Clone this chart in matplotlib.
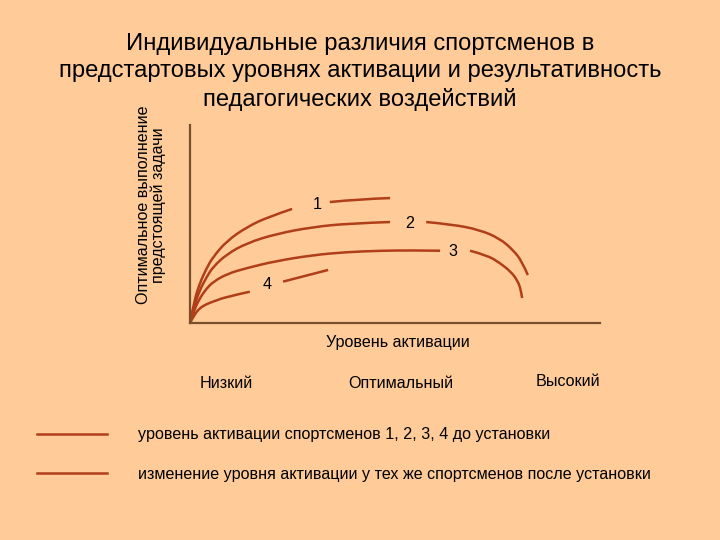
import matplotlib.pyplot as plt
from matplotlib.path import Path
from matplotlib.patches import PathPatch

plt.rcParams['font.family'] = ['Liberation Sans', 'DejaVu Sans']

BG = "#FFCC99"
CURVE = "#B03E18"
AXIS = "#7A4E2A"
FS = 11.6

title = ("Индивидуальные различия спортсменов в\n"
         "предстартовых уровнях активации и результативность\n"
         "педагогических воздействий")
ylabel = "Оптимальное выполнение\nпредстоящей задачи"
xlabel = "Уровень активации"
levels = ["Низкий", "Оптимальный", "Высокий"]
legend_texts = ["уровень активации спортсменов 1, 2, 3, 4 до установки",
                "изменение уровня активации у тех же спортсменов после установки"]

# curves: (x, y) in 0..100 units of the axes, segments split around the labels
curve1_a = ([0, 1.0, 2.4, 4.0, 5.6, 9.0, 13.9, 19.0, 24.9],
            [0, 11.0, 20.2, 27.5, 33.3, 41.5, 48.5, 53.5, 57.6])
curve1_b = ([34.1, 41.5, 48.8], [61.1, 62.6, 63.1])
curve2_a = ([0, 1.0, 2.4, 4.0, 5.6, 9.0, 13.9, 21.0, 30.0, 39.0, 48.8],
            [0, 8.5, 16.7, 23.0, 28.3, 34.8, 40.4, 45.0, 48.5, 50.3, 51.0])
curve2_b = ([57.6, 64.0, 70.7, 75.5, 78.8, 81.0, 82.4],
            [51.0, 49.8, 47.0, 42.7, 36.9, 31.0, 24.2])
curve3_a = ([0, 1.0, 2.4, 4.0, 5.6, 9.0, 13.9, 21.0, 30.0, 38.0, 46.3, 54.0, 61.0],
            [0, 6.5, 12.6, 17.3, 20.7, 24.8, 27.8, 31.3, 34.3, 35.8, 36.5, 36.7, 36.5])
curve3_b = ([68.3, 72.5, 75.6, 78.2, 79.8, 80.7, 81.0],
            [36.5, 34.2, 30.3, 26.0, 21.7, 17.0, 12.6])
curve4_a = ([0, 1.0, 2.4, 4.0, 5.6, 9.0, 14.6],
            [0, 4.0, 7.6, 9.5, 10.8, 13.3, 15.8])
curve4_b = ([22.7, 33.7], [20.9, 26.8])
curves = [curve1_a, curve1_b, curve2_a, curve2_b,
          curve3_a, curve3_b, curve4_a, curve4_b]

labels = ["1", "2", "3", "4"]
label_x = [31.0, 53.7, 64.1, 18.8]
label_y = [60.1, 50.0, 35.9, 19.2]


def smooth_path(xs, ys):
    # quadratic b-spline through midpoints, the read points act as controls
    pts = list(zip(xs, ys))
    if len(pts) < 3:
        return Path(pts, [Path.MOVETO, Path.LINETO])
    verts = [pts[0]]
    codes = [Path.MOVETO]
    for i in range(1, len(pts) - 1):
        if i < len(pts) - 2:
            end = ((pts[i][0] + pts[i + 1][0]) / 2, (pts[i][1] + pts[i + 1][1]) / 2)
        else:
            end = pts[-1]
        verts += [pts[i], end]
        codes += [Path.CURVE3, Path.CURVE3]
    return Path(verts, codes)


fig = plt.figure(figsize=(7.2, 5.4), dpi=100, facecolor=BG)
ax = fig.add_axes([190 / 720, 1 - 323 / 540, 410 / 720, 198 / 540])
ax.set_facecolor(BG)
ax.set_xlim(0, 100)
ax.set_ylim(0, 100)

for xs, ys in curves:
    ax.add_patch(PathPatch(smooth_path(xs, ys), fill=False, edgecolor=CURVE,
                           lw=1.8, capstyle="butt"))

for t, x, y in zip(labels, label_x, label_y):
    ax.text(x, y, t, fontsize=FS, ha="center", va="center", color="black")

for s in ["top", "right"]:
    ax.spines[s].set_visible(False)
for s in ["left", "bottom"]:
    ax.spines[s].set_color(AXIS)
    ax.spines[s].set_linewidth(1.6)
ax.set_xticks([])
ax.set_yticks([])

fig.text(0.5, 1 - 72 / 540, title, ha="center", va="center",
         fontsize=17.1, linespacing=1.33)
fig.text(151 / 720, 1 - 205 / 540, ylabel, rotation=90, ha="center",
         va="center", fontsize=FS, linespacing=1.0)
fig.text(398 / 720, 1 - 343 / 540, xlabel, ha="center", va="center", fontsize=FS)

level_x = [226, 401, 568]
level_y = [384, 384, 382]
for t, x, y in zip(levels, level_x, level_y):
    fig.text(x / 720, 1 - y / 540, t, ha="center", va="center", fontsize=FS)

legend_y = [434, 473]
for t, y in zip(legend_texts, legend_y):
    fig.add_artist(plt.Line2D([37 / 720, 107 / 720], [1 - y / 540, 1 - y / 540],
                              color=CURVE, lw=1.8))
    fig.text(138 / 720, 1 - (y + 1) / 540, t, ha="left", va="center", fontsize=FS)

fig.savefig("out.png", dpi=100, facecolor=BG)
